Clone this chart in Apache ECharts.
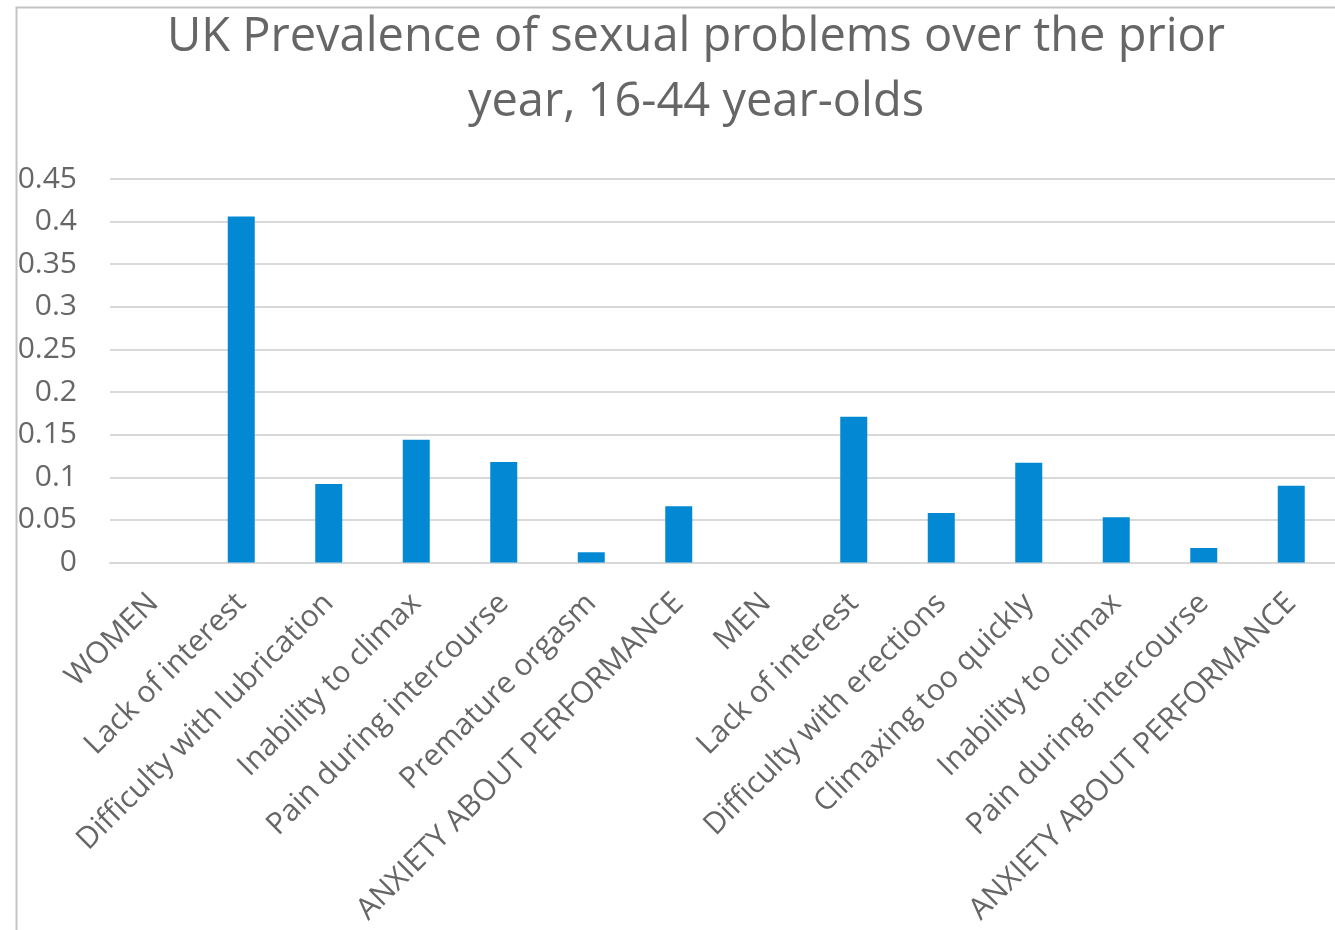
<!DOCTYPE html>
<html>
<head>
<meta charset="utf-8">
<title>UK Prevalence of sexual problems</title>
<script src="https://cdn.jsdelivr.net/npm/echarts@6/dist/echarts.min.js"></script>
<style>
  html, body { margin: 0; padding: 0; background: #ffffff; }
  #chart { width: 1335px; height: 930px; }
</style>
</head>
<body>
<div id="chart"></div>
<script>
// Problem categories, grouped under WOMEN and MEN header rows (which carry no value)
const categories = [
  'WOMEN',
  'Lack of interest',
  'Difficulty with lubrication',
  'Inability to climax',
  'Pain during intercourse',
  'Premature orgasm',
  'ANXIETY ABOUT PERFORMANCE',
  'MEN',
  'Lack of interest',
  'Difficulty with erections',
  'Climaxing too quickly',
  'Inability to climax',
  'Pain during intercourse',
  'ANXIETY ABOUT PERFORMANCE'
];

// Share of 16-44 year-olds reporting each problem in the prior year
const prevalence = [
  null, 0.406, 0.092, 0.144, 0.118, 0.012, 0.066,
  null, 0.171, 0.058, 0.117, 0.053, 0.017, 0.090
];

const yTicks = { min: 0, max: 0.45, interval: 0.05 };

const titleLines = ['UK Prevalence of sexual problems over the prior', 'year, 16-44 year-olds'];

const textGray = '#666666';
const gridGray = '#d9d9d9';
const barBlue = '#0389d3';
const fontFamily = '"Open Sans", "Noto Sans", sans-serif';

const chart = echarts.init(document.getElementById('chart'), null, { renderer: 'canvas' });

chart.setOption({
  backgroundColor: '#ffffff',
  animation: false,
  title: {
    text: titleLines.join('\n'),
    left: 691,
    textAlign: 'center',
    top: 0,
    textStyle: {
      fontFamily: fontFamily,
      fontSize: 47,
      fontWeight: 'normal',
      color: textGray,
      lineHeight: 65
    }
  },
  graphic: [{
    type: 'rect',
    left: 14,
    top: 5,
    shape: { width: 1400, height: 1000 },
    style: { fill: 'none', stroke: '#c4c4c4', lineWidth: 2 },
    silent: true
  }],
  grid: {
    left: 110,
    right: 0,
    top: 179,
    bottom: 367.5,
    containLabel: false
  },
  xAxis: {
    type: 'category',
    data: categories,
    axisLine: { show: true, lineStyle: { color: gridGray, width: 2 } },
    axisTick: { show: false },
    axisLabel: {
      rotate: 45,
      interval: 0,
      margin: 36,
      fontFamily: fontFamily,
      fontSize: 30,
      color: textGray
    }
  },
  yAxis: {
    type: 'value',
    min: yTicks.min,
    max: yTicks.max,
    interval: yTicks.interval,
    axisLine: { show: false },
    axisTick: { show: false },
    splitLine: { lineStyle: { color: gridGray, width: 2 } },
    axisLabel: {
      margin: 33,
      fontFamily: fontFamily,
      fontSize: 30,
      color: textGray
    }
  },
  series: [{
    type: 'bar',
    data: prevalence,
    barWidth: 27,
    itemStyle: { color: barBlue },
    emphasis: { disabled: true }
  }]
});
</script>
</body>
</html>
